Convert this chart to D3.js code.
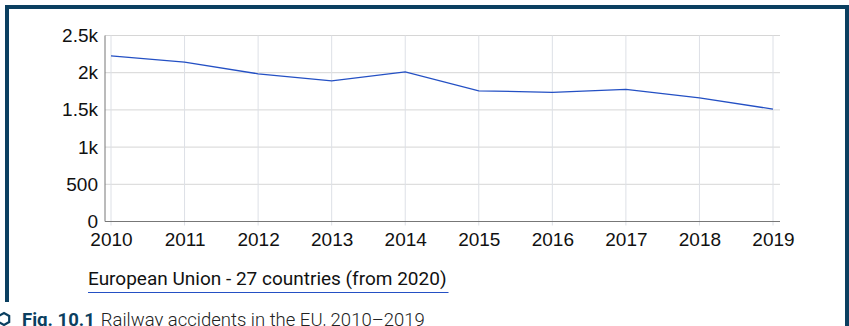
<!DOCTYPE html>
<html>
<head>
<meta charset="utf-8">
<script src="https://cdn.jsdelivr.net/npm/d3@7"></script>
<style>
  html, body { margin: 0; padding: 0; background: #fff; }
  svg { display: block; }
  text { font-family: Roboto, "Noto Sans", sans-serif; fill: #111; }
</style>
</head>
<body>
<svg id="chart" width="849" height="326"></svg>
<script>
// Railway accidents, EU-27 (from 2020)
const years = ["2010", "2011", "2012", "2013", "2014", "2015", "2016", "2017", "2018", "2019"];
const accidents = [2226, 2143, 1985, 1890, 2012, 1757, 1735, 1775, 1662, 1510];
const yTickValues = [0, 500, 1000, 1500, 2000, 2500];
const yTickLabels = ["0", "500", "1k", "1.5k", "2k", "2.5k"];
const seriesName = "European Union - 27 countries (from 2020)";
const captionBold = "Fig. 10.1";
const captionText = "Railway accidents in the EU, 2010\u20132019";

const svg = d3.select("#chart");
const frameColor = "#0b3f60";
const lineColor = "#2450c4";

// frame around the chart
svg.append("path")
  .attr("d", "M7,302 V7 H847 V326")
  .attr("fill", "none")
  .attr("stroke", frameColor)
  .attr("stroke-width", 4);

const plot = { left: 105, right: 780, top: 35.5, bottom: 221.5 };

const x = d3.scalePoint().domain(years).range([111, 773]);
const y = d3.scaleLinear().domain([0, 2500]).range([plot.bottom, plot.top]);

// horizontal grid
svg.append("g").selectAll("line")
  .data(yTickValues.filter(v => v > 0))
  .join("line")
  .attr("x1", plot.left).attr("x2", plot.right)
  .attr("y1", d => y(d)).attr("y2", d => y(d))
  .attr("stroke", "#d6d6d6").attr("stroke-width", 1);

// vertical grid
svg.append("g").selectAll("line")
  .data(years)
  .join("line")
  .attr("x1", d => x(d)).attr("x2", d => x(d))
  .attr("y1", plot.top).attr("y2", plot.bottom + 4)
  .attr("stroke", "#dde0e6").attr("stroke-width", 1);

// axes lines
svg.append("line")
  .attr("x1", plot.left).attr("x2", plot.left)
  .attr("y1", plot.top).attr("y2", plot.bottom)
  .attr("stroke", "#777").attr("stroke-width", 1);
svg.append("line")
  .attr("x1", plot.left).attr("x2", plot.right)
  .attr("y1", plot.bottom).attr("y2", plot.bottom)
  .attr("stroke", "#777").attr("stroke-width", 1);

// y axis labels
const yAxis = d3.axisLeft(y).tickValues(yTickValues)
  .tickFormat((d, i) => yTickLabels[i]).tickSize(0).tickPadding(7);
const gy = svg.append("g").attr("transform", `translate(${plot.left},0)`).call(yAxis);
gy.select(".domain").remove();
gy.selectAll("text").attr("font-size", 19).attr("fill", "#111")
  .style("font-family", "inherit");

// x axis labels
const xAxis = d3.axisBottom(x).tickSize(0).tickPadding(11);
const gx = svg.append("g").attr("transform", `translate(0,${plot.bottom})`).call(xAxis);
gx.select(".domain").remove();
gx.selectAll("text").attr("font-size", 19).attr("fill", "#111")
  .style("font-family", "inherit");

// series line
svg.append("path")
  .datum(accidents)
  .attr("fill", "none")
  .attr("stroke", lineColor)
  .attr("stroke-width", 1.3)
  .attr("d", d3.line().x((d, i) => x(years[i])).y(d => y(d)));

// legend
const legend = svg.append("text")
  .attr("x", 88).attr("y", 285)
  .attr("font-size", 19)
  .text(seriesName);
const lw = legend.node().getComputedTextLength();
svg.append("line")
  .attr("x1", 88).attr("x2", 88 + lw + 2)
  .attr("y1", 292.5).attr("y2", 292.5)
  .attr("stroke", lineColor).attr("stroke-width", 1.2);

// caption with hexagon marker
const hex = d3.range(6).map(k => {
  const a = Math.PI / 3 * k + Math.PI / 6;
  return [4 + 6 * Math.cos(a), 319 + 6 * Math.sin(a)];
});
svg.append("polygon")
  .attr("points", hex.map(p => p.join(",")).join(" "))
  .attr("fill", "none").attr("stroke", frameColor).attr("stroke-width", 2.2);

const cap = svg.append("text").attr("x", 22).attr("y", 326).attr("font-size", 18.5);
cap.append("tspan").attr("font-weight", "bold").attr("fill", frameColor).text(captionBold);
cap.append("tspan").attr("dx", 6).attr("font-weight", 300).attr("fill", "#222").text(captionText);
</script>
</body>
</html>
